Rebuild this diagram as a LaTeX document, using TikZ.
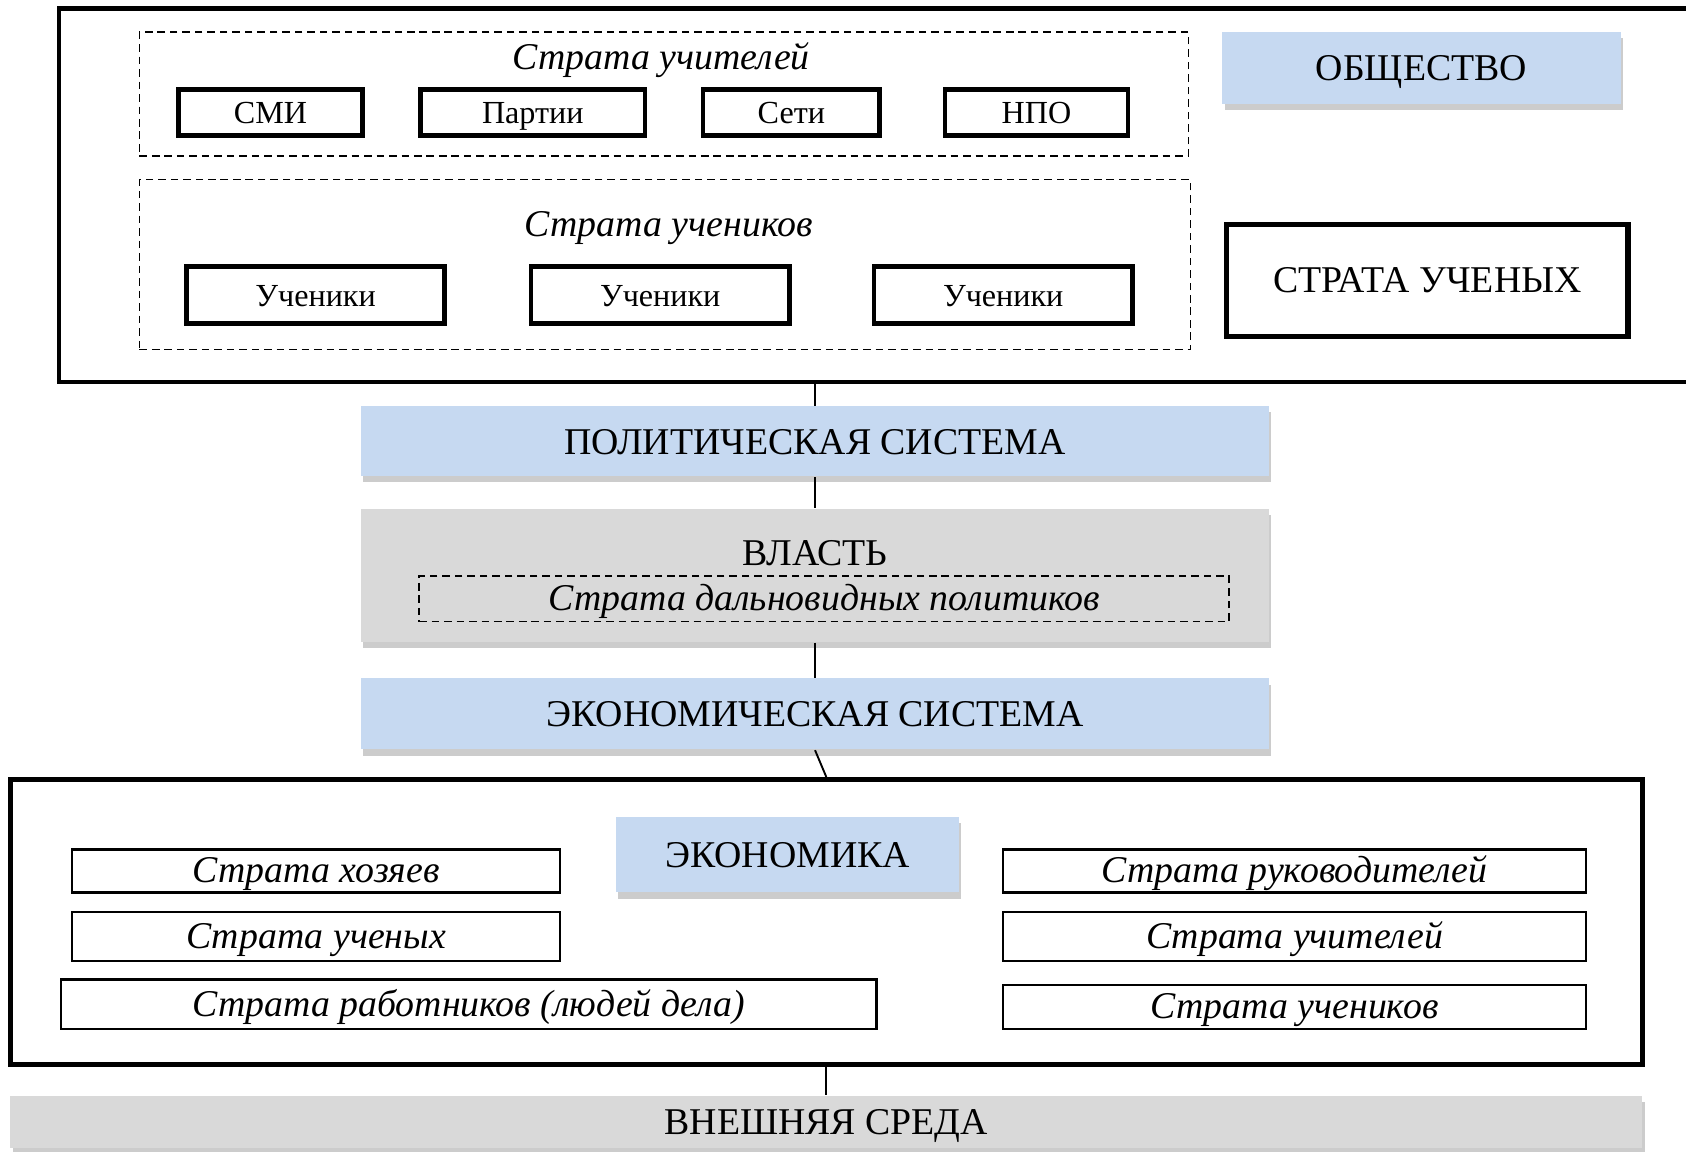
\documentclass[tikz,border=0pt]{standalone}
\usepackage{fontspec}
\setmainfont{Liberation Serif}
\usetikzlibrary{shadows}

\definecolor{sysblue}{HTML}{C6D9F1}
\definecolor{envgrey}{HTML}{D9D9D9}

\begin{document}
\begin{tikzpicture}[
    x=0.01cm, y=-0.01cm,
    frame/.style={draw, line width=1.1pt, inner sep=0pt},
    strat/.style={draw, dashed, dash pattern=on 2pt off 1.3pt, line width=0.45pt, inner sep=0pt},
    org/.style={draw, line width=1.2pt, inner sep=0pt, minimum height=0.43cm,
        text height=0.8em, text depth=0.2em, font=\fontsize{8.5}{10}\selectfont},
    pupil/.style={org, minimum width=2.4cm, minimum height=0.53cm},
    sysbox/.style={fill=sysblue, inner sep=0pt, text height=0.85em, text depth=0.18em,
        font=\fontsize{10}{12}\selectfont,
        drop shadow={shadow xshift=0.6pt, shadow yshift=-1.6pt, fill=black!40, opacity=0.5}},
    envbox/.style={sysbox, fill=envgrey},
    layer/.style={draw, line width=0.6pt, inner sep=0pt, text height=0.85em, text depth=0.22em,
        font=\fontsize{10}{12}\selectfont\itshape},
    stratlabel/.style={font=\fontsize{10}{12}\selectfont\itshape},
    link/.style={line width=0.5pt}
]
\useasboundingbox (0,0) rectangle (1568,1071.3);

% Society (open to the right)
\node[frame, minimum width=15.45cm, minimum height=3.47cm] (society) at (827.5,181.5) {};

% Teachers' stratum
\node[strat, minimum width=9.75cm, minimum height=1.15cm] (teachers) at (617.5,87.5) {};
\node[stratlabel] (teacherstitle) at (615,56) {Страта учителей};
\node[org, minimum width=1.71cm] (media) at (251.5,104.5) {СМИ};
\node[org, minimum width=2.09cm] (parties) at (495.5,104.5) {Партии};
\node[org, minimum width=1.64cm] (networks) at (736,104.5) {Сети};
\node[org, minimum width=1.70cm] (ngo) at (964,104.5) {НПО};

% Pupils' stratum
\node[strat, minimum width=9.77cm, minimum height=1.58cm] (pupils) at (618.5,246) {};
\node[stratlabel] (pupilstitle) at (622,212) {Страта учеников};
\node[pupil] (pupila) at (293.5,274.5) {Ученики};
\node[pupil] (pupilb) at (614,274.5) {Ученики};
\node[pupil] (pupilc) at (933,274.5) {Ученики};

\node[sysbox, minimum width=3.70cm, minimum height=0.67cm] (societytitle) at (1322,63.5) {ОБЩЕСТВО};
\node[draw, line width=1.4pt, minimum width=3.73cm, minimum height=1.04cm,
    font=\fontsize{10}{12}\selectfont] (scientists) at (1327.5,261) {СТРАТА УЧЕНЫХ};

% Political system and power
\node[sysbox, minimum width=8.44cm, minimum height=0.65cm] (polsys) at (758,410.5) {ПОЛИТИЧЕСКАЯ СИСТЕМА};
\node[envbox, minimum width=8.44cm, minimum height=1.24cm] (power) at (758,535) {};
\node[font=\fontsize{10}{12}\selectfont] (powertitle) at (758,514) {ВЛАСТЬ};
\node[strat, minimum width=7.53cm, minimum height=0.42cm, text height=0.8em, text depth=0.2em,
    font=\fontsize{10}{12}\selectfont\itshape]
    (farsighted) at (766.5,557) {Страта дальновидных политиков};
\node[sysbox, minimum width=8.44cm, minimum height=0.66cm] (econsys) at (758,664) {ЭКОНОМИЧЕСКАЯ СИСТЕМА};

% Economy
\node[frame, line width=1.3pt, minimum width=15.17cm, minimum height=2.65cm] (economy) at (768.5,857.5) {};
\node[sysbox, minimum width=3.19cm, minimum height=0.70cm] (economytitle) at (732.5,795) {ЭКОНОМИКА};
\node[layer, minimum width=4.54cm, minimum height=0.40cm] (owners) at (294,810) {Страта хозяев};
\node[layer, minimum width=4.54cm, minimum height=0.46cm] (scholars) at (294,871) {Страта ученых};
\node[layer, minimum width=7.58cm, minimum height=0.46cm] (workers) at (436,934) {Страта работников (людей дела)};
\node[layer, minimum width=5.42cm, minimum height=0.40cm] (managers) at (1204,810) {Страта руководителей};
\node[layer, minimum width=5.42cm, minimum height=0.46cm] (tutors) at (1204,871) {Страта учителей};
\node[layer, minimum width=5.42cm, minimum height=0.41cm] (learners) at (1204,936.5) {Страта учеников};

% Environment
\node[envbox, minimum width=15.17cm, minimum height=0.49cm] (environment) at (768.5,1043.5) {ВНЕШНЯЯ СРЕДА};

% Links
\draw[link] (society.south -| polsys.north) -- (polsys.north);
\draw[link] (polsys.south) -- (power.north);
\draw[link] (power.south) -- (econsys.north);
\draw[link] (econsys.south) -- (economy.north);
\draw[link] (economy.south) -- (environment.north);

\end{tikzpicture}
\end{document}
